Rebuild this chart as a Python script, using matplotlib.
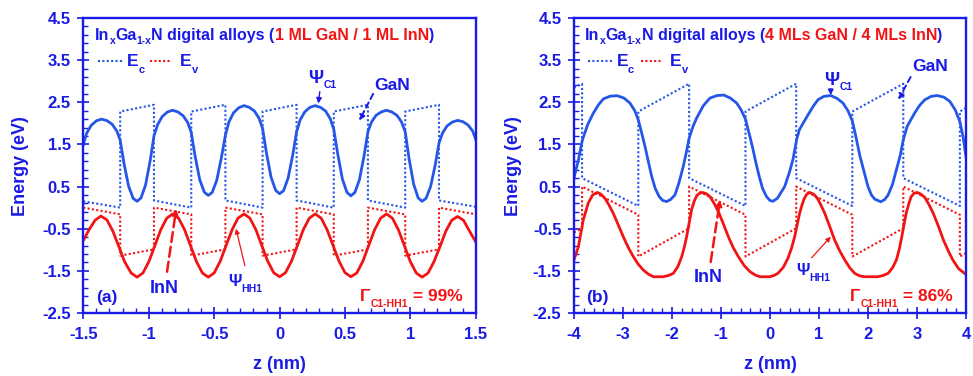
import matplotlib
matplotlib.use("Agg")
import matplotlib.pyplot as plt
from matplotlib.ticker import MultipleLocator
from matplotlib.transforms import IdentityTransform

plt.rcParams["font.family"] = ["Liberation Sans", "DejaVu Sans"]
plt.rcParams["font.weight"] = "bold"
plt.rcParams["axes.unicode_minus"] = False

BLUE_TXT = "#1a1ae6"
BLUE = "#2456e8"
RED = "#f21414"
DOTS = (0, (1, 1.1))

# ---- data ----
y_ticks = [-2.5, -1.5, -0.5, 0.5, 1.5, 2.5, 3.5, 4.5]
y_labels = ["-2.5", "-1.5", "-0.5", "0.5", "1.5", "2.5", "3.5", "4.5"]
left_xticks = [-1.5, -1, -0.5, 0, 0.5, 1, 1.5]
left_xlabels = ["-1.5", "-1", "-0.5", "0", "0.5", "1", "1.5"]
right_xticks = [-4, -3, -2, -1, 0, 1, 2, 3, 4]
right_xlabels = ["-4", "-3", "-2", "-1", "0", "1", "2", "3", "4"]

# (a) 1 ML GaN / 1 ML InN
left_band_z = [-1.5, -1.218, -1.218, -0.96, -0.96, -0.675, -0.675, -0.414, -0.414, -0.13, -0.13,
               0.13, 0.13, 0.414, 0.414, 0.675, 0.675, 0.96, 0.96, 1.218, 1.218, 1.5]
left_ec = [0.15, 0.0, 2.28, 2.44, 0.17, 0.0, 2.28, 2.44, 0.17, 0.0, 2.28,
           2.44, 0.17, 0.0, 2.28, 2.44, 0.17, 0.0, 2.28, 2.44, 0.17, 0.02]
left_ev = [0.0, -0.16, -1.14, -0.99, 0.0, -0.16, -1.14, -0.99, 0.0, -0.16, -1.14,
           -0.99, 0.0, -0.16, -1.14, -0.99, 0.0, -0.16, -1.14, -0.99, 0.0, -0.16]

left_c1_z = [-1.5, -1.475, -1.44, -1.40, -1.36, -1.32, -1.28, -1.245, -1.218, -1.189, -1.154, -1.119,
             -1.089, -1.059, -1.024, -0.989, -0.96, -0.932, -0.897, -0.857, -0.817, -0.777, -0.737,
             -0.702, -0.675, -0.645, -0.61, -0.575, -0.545, -0.515, -0.48, -0.445, -0.414, -0.387,
             -0.352, -0.312, -0.272, -0.232, -0.192, -0.157, -0.13, -0.1, -0.065, -0.03, 0.0, 0.03,
             0.065, 0.1, 0.13, 0.157, 0.192, 0.232, 0.272, 0.312, 0.352, 0.387, 0.414, 0.445, 0.48,
             0.515, 0.545, 0.575, 0.61, 0.645, 0.675, 0.702, 0.737, 0.777, 0.817, 0.857, 0.897, 0.932,
             0.96, 0.989, 1.024, 1.059, 1.089, 1.119, 1.154, 1.189, 1.218, 1.245, 1.28, 1.32, 1.36,
             1.40, 1.44, 1.475, 1.5]
left_c1_e = [1.49, 1.76, 1.95, 2.06, 2.10, 2.065, 1.98, 1.825, 1.60, 1.05, 0.51, 0.22,
             0.15, 0.23, 0.54, 1.11, 1.70, 1.97, 2.16, 2.27, 2.31, 2.27, 2.18,
             2.02, 1.78, 1.21, 0.66, 0.365, 0.29, 0.36, 0.65, 1.18, 1.72, 2.035,
             2.25, 2.37, 2.42, 2.38, 2.29, 2.12, 1.88, 1.29, 0.72, 0.41, 0.33, 0.40,
             0.70, 1.24, 1.80, 2.08, 2.27, 2.38, 2.42, 2.38, 2.29, 2.11, 1.86, 1.26, 0.675,
             0.36, 0.28, 0.36, 0.66, 1.22, 1.80, 2.03, 2.19, 2.27, 2.31, 2.27, 2.19, 2.03,
             1.80, 1.17, 0.56, 0.23, 0.15, 0.22, 0.50, 1.01, 1.53, 1.77, 1.94, 2.03, 2.07,
             2.04, 1.96, 1.82, 1.61]

left_hh1_z = [-1.5, -1.455, -1.41, -1.365, -1.32, -1.275, -1.23, -1.185, -1.135, -1.089, -1.044,
              -0.998, -0.953, -0.908, -0.862, -0.817, -0.772, -0.726, -0.681, -0.636, -0.590, -0.545,
              -0.5, -0.454, -0.409, -0.363, -0.318, -0.272, -0.227, -0.181, -0.136, -0.091, -0.045,
              0.0, 0.045, 0.091, 0.136, 0.181, 0.227, 0.272, 0.318, 0.363, 0.409, 0.454, 0.5, 0.545,
              0.59, 0.636, 0.681, 0.726, 0.772, 0.817, 0.862, 0.908, 0.953, 0.998, 1.044, 1.089,
              1.135, 1.18, 1.225, 1.27, 1.315, 1.36, 1.405, 1.45, 1.5]
left_hh1_e = [-0.78, -0.52, -0.30, -0.20, -0.29, -0.55, -0.91, -1.28, -1.55, -1.65, -1.55,
              -1.275, -0.90, -0.525, -0.25, -0.15, -0.25, -0.525, -0.90, -1.275, -1.55, -1.65,
              -1.55, -1.275, -0.90, -0.525, -0.25, -0.15, -0.25, -0.525, -0.90, -1.27, -1.545,
              -1.64, -1.545, -1.27, -0.90, -0.525, -0.25, -0.15, -0.25, -0.525, -0.90, -1.27, -1.545, -1.64,
              -1.55, -1.275, -0.90, -0.525, -0.25, -0.15, -0.25, -0.525, -0.90, -1.275, -1.55, -1.65,
              -1.55, -1.28, -0.93, -0.56, -0.30, -0.21, -0.30, -0.55, -0.82]

# (b) 4 MLs GaN / 4 MLs InN
right_band_z = [-4.0, -3.835, -3.835, -2.687, -2.687, -1.65, -1.65, -0.50, -0.50,
                0.535, 0.535, 1.68, 1.68, 2.72, 2.72, 3.875, 3.875, 4.0]
right_ec = [2.85, 2.94, 0.70, 0.04, 2.28, 2.94, 0.70, 0.04, 2.28,
            2.94, 0.70, 0.04, 2.28, 2.94, 0.70, 0.04, 2.28, 2.37]
right_ev = [-0.59, -0.49, 0.50, -0.17, -1.16, -0.49, 0.50, -0.17, -1.16,
            -0.49, 0.50, -0.17, -1.16, -0.49, 0.50, -0.17, -1.16, -1.08]

right_c1_z = [-4.0, -3.91, -3.83, -3.72, -3.606, -3.50, -3.40, -3.26, -3.116, -2.98, -2.857, -2.76,
              -2.687, -2.62, -2.55, -2.48, -2.414, -2.34, -2.26, -2.19, -2.11, -2.03, -1.94, -1.86,
              -1.77, -1.70, -1.65, -1.57, -1.497, -1.36, -1.224, -1.08, -0.94, -0.81, -0.68, -0.59,
              -0.50, -0.43, -0.36, -0.29, -0.22, -0.15, -0.07, 0.0, 0.06, 0.15, 0.30, 0.40, 0.47,
              0.545, 0.60, 0.776, 0.88, 0.98, 1.10, 1.24, 1.37, 1.49, 1.59, 1.68, 1.75, 1.83, 1.92,
              2.0, 2.07, 2.14, 2.26, 2.34, 2.41, 2.50, 2.58, 2.66, 2.72, 2.80, 2.95, 3.05, 3.16,
              3.29, 3.41, 3.55, 3.67, 3.78, 3.875, 3.94, 4.0]
right_c1_e = [0.70, 1.13, 1.60, 1.97, 2.24, 2.44, 2.58, 2.645, 2.655, 2.60, 2.48, 2.30,
              2.08, 1.78, 1.45, 1.08, 0.74, 0.45, 0.26, 0.17, 0.144, 0.19, 0.30, 0.58,
              0.975, 1.35, 1.65, 1.93, 2.125, 2.42, 2.60, 2.66, 2.67, 2.60, 2.48, 2.32,
              2.10, 1.78, 1.45, 1.08, 0.74, 0.45, 0.26, 0.17, 0.15, 0.22, 0.50, 0.85, 1.15,
              1.62, 1.85, 2.20, 2.40, 2.56, 2.64, 2.66, 2.59, 2.48, 2.30, 2.06, 1.70, 1.25, 0.85,
              0.50, 0.30, 0.20, 0.14, 0.19, 0.30, 0.55, 0.90, 1.25, 1.61, 1.93, 2.24, 2.42, 2.56,
              2.64, 2.66, 2.62, 2.52, 2.32, 2.04, 1.68, 1.21]

right_hh1_z = [-4.0, -3.91, -3.81, -3.71, -3.62, -3.524, -3.45, -3.37, -3.285, -3.2, -3.1, -2.994,
               -2.89, -2.79, -2.69, -2.586, -2.48, -2.38, -2.18, -2.07, -1.973, -1.88, -1.80, -1.74,
               -1.688, -1.64, -1.60, -1.55, -1.497, -1.44, -1.374, -1.30, -1.224, -1.14, -1.055,
               -0.95, -0.85, -0.75, -0.647, -0.53, -0.408, -0.30, -0.204, 0.0, 0.08, 0.16, 0.27,
               0.367, 0.44, 0.504, 0.556, 0.606, 0.65, 0.694, 0.75, 0.81, 0.89, 0.965, 1.04, 1.116,
               1.22, 1.32, 1.42, 1.525, 1.63, 1.73, 1.83, 1.93, 2.20, 2.31, 2.41, 2.50, 2.58, 2.64,
               2.69, 2.735, 2.78, 2.83, 2.88, 2.94, 3.006, 3.08, 3.16, 3.245, 3.33, 3.44, 3.54, 3.64,
               3.73, 3.85, 3.97, 4.0]
right_hh1_e = [-1.24, -0.93, -0.29, 0.105, 0.30, 0.36, 0.32, 0.225, 0.06, -0.13, -0.40, -0.69,
               -0.95, -1.16, -1.34, -1.48, -1.58, -1.64, -1.64, -1.61, -1.56, -1.40, -1.16, -0.90,
               -0.61, -0.30, -0.05, 0.14, 0.28, 0.34, 0.36, 0.33, 0.26, 0.10, -0.09,
               -0.39, -0.69, -0.95, -1.16, -1.37, -1.52, -1.60, -1.64, -1.64, -1.61, -1.56, -1.42,
               -1.2, -0.96, -0.69, -0.40, -0.13, 0.05, 0.20, 0.32, 0.36, 0.32, 0.225, 0.06, -0.13,
               -0.45, -0.77, -1.02, -1.24, -1.43, -1.56, -1.62, -1.64, -1.64, -1.61, -1.56, -1.43, -1.24, -0.98,
               -0.69, -0.40, -0.13, 0.08, 0.26, 0.34, 0.36, 0.32, 0.24, 0.07, -0.13, -0.45, -0.77, -1.03,
               -1.24, -1.45, -1.56, -1.58]

fig = plt.figure(figsize=(9.73, 3.76), dpi=100)
axL = fig.add_axes([0.0856, 0.1676, 0.4035, 0.7846])
axR = fig.add_axes([0.5899, 0.1676, 0.4029, 0.7846])


def style(ax, xlim, xticks, xlabels, xminor):
    ax.set_xlim(*xlim)
    ax.set_ylim(-2.5, 4.5)
    ax.set_xticks(xticks)
    ax.set_xticklabels(xlabels)
    ax.set_yticks(y_ticks)
    ax.set_yticklabels(y_labels)
    ax.xaxis.set_minor_locator(MultipleLocator(xminor))
    ax.yaxis.set_minor_locator(MultipleLocator(0.2, offset=0.1))
    for sp in ax.spines.values():
        sp.set_color(BLUE_TXT)
        sp.set_linewidth(1.7)
    ax.tick_params(which="major", direction="inout", length=9, width=1.2, color=BLUE_TXT,
                   labelcolor=BLUE_TXT, labelsize=12, top=False, right=False)
    ax.tick_params(axis="y", which="major", pad=4.5)
    ax.tick_params(axis="x", which="major", pad=5.5)
    ax.tick_params(which="minor", direction="in", length=3.6, width=1.0, color=BLUE_TXT,
                   top=False, right=False)


style(axL, (-1.5, 1.5), left_xticks, left_xlabels, 0.1)
style(axR, (-4, 4), right_xticks, right_xlabels, 0.2)

for ax, bz, ec, ev, cz, ce, hz, he in [
        (axL, left_band_z, left_ec, left_ev, left_c1_z, left_c1_e, left_hh1_z, left_hh1_e),
        (axR, right_band_z, right_ec, right_ev, right_c1_z, right_c1_e, right_hh1_z, right_hh1_e)]:
    ax.plot(bz, ec, linestyle=DOTS, color=BLUE, lw=1.5)
    ax.plot(bz, ev, linestyle=DOTS, color=RED, lw=1.5)
    ax.plot(cz, ce, "-", color=BLUE, lw=2.0, solid_joinstyle="round")
    ax.plot(hz, he, "-", color=RED, lw=2.0, solid_joinstyle="round")

renderer = fig.canvas.get_renderer()


def chain(ax, x, y, parts):
    # parts: (text, colour, size, baseline shift in pt)
    xd, yd = ax.transData.transform((x, y))
    for s, c, size, dy in parts:
        t = ax.text(xd, yd + dy * fig.dpi / 72, s, color=c, fontsize=size, ha="left",
                    va="baseline", transform=IdentityTransform())
        xd = t.get_window_extent(renderer).x1


def arrow(ax, tail, head, color, ls="-", lw=1.0, ms=9):
    ax.annotate("", xy=head, xytext=tail,
                arrowprops=dict(arrowstyle="-|>", color=color, lw=lw, linestyle=ls,
                                mutation_scale=ms, shrinkA=0, shrinkB=0))


def decorate(ax, p):
    chain(ax, p["title"][0], p["title"][1], [
        ("In", BLUE_TXT, 11.5, 0), ("x", BLUE_TXT, 7.5, -3), ("Ga", BLUE_TXT, 11.5, 0),
        ("1-x", BLUE_TXT, 7.5, -3), ("N digital alloys (", BLUE_TXT, 11.5, 0),
        (p["stack"], RED, 11.5, 0), (")", BLUE_TXT, 11.5, 0)])
    lx0, lx1, lx2, lx3, lx4, lx5 = p["leg"]
    ax.plot([lx0, lx1], [3.49, 3.49], linestyle=DOTS, color=BLUE, lw=1.5)
    chain(ax, lx2, 3.35, [("E", BLUE_TXT, 12.5, 0), ("c", BLUE_TXT, 8, -5)])
    ax.plot([lx3, lx4], [3.49, 3.49], linestyle=DOTS, color=RED, lw=1.5)
    chain(ax, lx5, 3.35, [("E", BLUE_TXT, 12.5, 0), ("v", BLUE_TXT, 8, -5)])
    chain(ax, p["c1"][0], p["c1"][1], [("\u03a8", BLUE_TXT, 13.5, 0), ("C1", BLUE_TXT, 7.5, -3.6)])
    arrow(ax, p["c1_arrow"][0], p["c1_arrow"][1], BLUE_TXT, lw=1.0, ms=8)
    chain(ax, p["gan"][0], p["gan"][1], [("GaN", BLUE_TXT, 12.5, 0)])
    arrow(ax, p["gan_arrow"][0], p["gan_arrow"][1], BLUE_TXT, ls=(0, (3, 2)), lw=1.4, ms=8)
    chain(ax, p["inn"][0], p["inn"][1], [("InN", BLUE_TXT, 13, 0)])
    arrow(ax, p["inn_arrow"][0], p["inn_arrow"][1], RED, ls=(0, (4, 2)), lw=1.8, ms=8)
    chain(ax, p["hh1"][0], p["hh1"][1], [("\u03a8", BLUE_TXT, 12, 0), ("HH1", BLUE_TXT, 7.5, -4.6)])
    arrow(ax, p["hh1_arrow"][0], p["hh1_arrow"][1], RED, lw=0.9, ms=7)
    chain(ax, p["tag"][0], -2.23, [(p["tag"][1], BLUE_TXT, 12.5, 0)])
    chain(ax, p["gamma"], -2.21, [("\u0393", RED, 12.5, 0), ("C1-HH1", RED, 7.5, -4.3),
                                  (" = " + p["overlap"], RED, 12.5, 0)])


decorate(axL, dict(title=(-1.41, 3.98), stack="1 ML GaN / 1 ML InN",
                   leg=(-1.388, -1.197, -1.168, -0.99, -0.822, -0.761),
                   c1=(0.22, 2.96), c1_arrow=((0.307, 2.75), (0.296, 2.47)),
                   gan=(0.72, 2.78), gan_arrow=((0.715, 2.70), (0.608, 2.06)),
                   inn=(-0.99, -2.02), inn_arrow=((-0.86, -1.52), (-0.79, -0.03)),
                   hh1=(-0.394, -1.85), hh1_arrow=((-0.265, -1.38), (-0.333, -0.50)),
                   tag=(-1.40, "(a)"), gamma=0.614, overlap="99%"))

decorate(axR, dict(title=(-3.77, 3.98), stack="4 MLs GaN / 4 MLs InN",
                   leg=(-3.71, -3.21, -3.13, -2.64, -2.21, -2.04),
                   c1=(1.11, 2.92), c1_arrow=((1.24, 2.82), (1.24, 2.67)),
                   gan=(2.91, 3.23), gan_arrow=((2.87, 3.10), (2.62, 2.56)),
                   inn=(-1.55, -1.76), inn_arrow=((-1.21, -1.29), (-1.02, 0.185)),
                   hh1=(0.53, -1.6), hh1_arrow=((0.85, -1.19), (1.24, -0.69)),
                   tag=(-3.755, "(b)"), gamma=1.64, overlap="86%"))

for ax in (axL, axR):
    pos = ax.get_position()
    fig.text((pos.x0 + pos.x1) / 2, 0.018, "z (nm)", color=BLUE_TXT, fontsize=13,
             ha="center", va="baseline")
fig.text(21 / 973, 0.558, "Energy (eV)", color=BLUE_TXT, fontsize=13, rotation=90,
         ha="center", va="center")
fig.text(513 / 973, 0.558, "Energy (eV)", color=BLUE_TXT, fontsize=13, rotation=90,
         ha="center", va="center")

fig.savefig("out.png", dpi=100)
